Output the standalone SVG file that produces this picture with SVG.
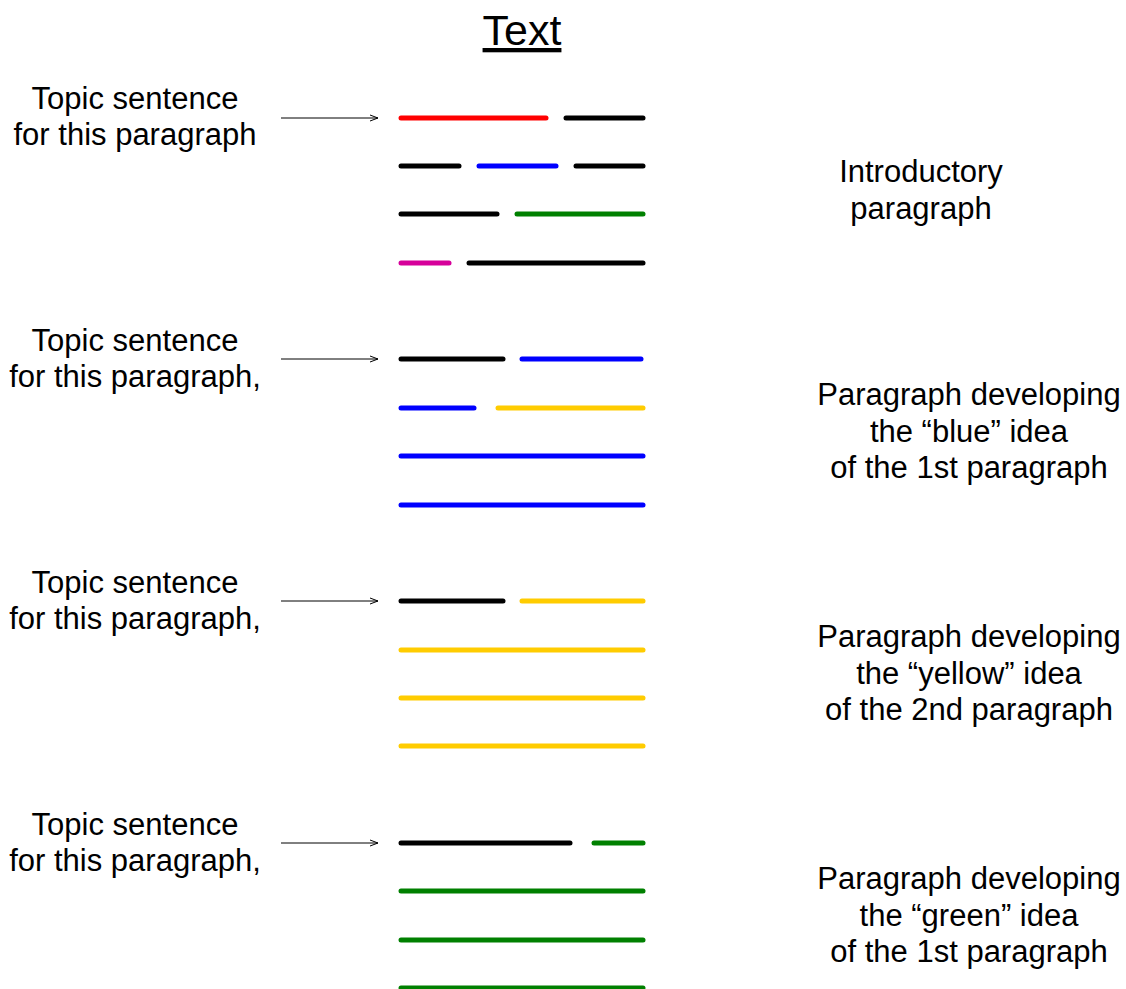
<svg xmlns="http://www.w3.org/2000/svg" width="1126" height="989" viewBox="0 0 1126 989">
<style>
text{font-family:"Liberation Sans",Arial,sans-serif;fill:#000;}
.lbl{font-size:31px;text-anchor:middle;}
.title{font-size:43px;text-anchor:middle;text-decoration:underline;}
.ln{stroke-width:5;stroke-linecap:round;fill:none;}
.k{stroke:#000;}.r{stroke:#ff0000;}.b{stroke:#0000ff;}.g{stroke:#008000;}.y{stroke:#ffcc00;}.m{stroke:#d6009a;}
.arr{stroke:#000;stroke-width:1;fill:none;}
</style>
<defs>
<marker id="ah" markerWidth="10" markerHeight="8" refX="9" refY="4" orient="auto" markerUnits="userSpaceOnUse">
<path d="M1,1 L9,4 L1,7" fill="none" stroke="#000" stroke-width="1"/>
</marker>
</defs>
<rect width="1126" height="989" fill="#fff"/>
<g id="title"><text class="title" x="522" y="45">Text</text></g>

<g id="label-left-1"><text class="lbl" x="135" y="109">Topic sentence</text><text class="lbl" x="135" y="145">for this paragraph</text></g>
<g id="label-left-2"><text class="lbl" x="135" y="351">Topic sentence</text><text class="lbl" x="135" y="387">for this paragraph,</text></g>
<g id="label-left-3"><text class="lbl" x="135" y="593">Topic sentence</text><text class="lbl" x="135" y="629">for this paragraph,</text></g>
<g id="label-left-4"><text class="lbl" x="135" y="835">Topic sentence</text><text class="lbl" x="135" y="871">for this paragraph,</text></g>

<g id="label-right-1"><text class="lbl" x="921" y="182">Introductory</text><text class="lbl" x="921" y="219">paragraph</text></g>
<g id="label-right-2"><text class="lbl" x="969" y="405">Paragraph developing</text><text class="lbl" x="969" y="442">the “blue” idea</text><text class="lbl" x="969" y="478">of the 1st paragraph</text></g>
<g id="label-right-3"><text class="lbl" x="969" y="647">Paragraph developing</text><text class="lbl" x="969" y="684">the “yellow” idea</text><text class="lbl" x="969" y="720">of the 2nd paragraph</text></g>
<g id="label-right-4"><text class="lbl" x="969" y="889">Paragraph developing</text><text class="lbl" x="969" y="926">the “green” idea</text><text class="lbl" x="969" y="962">of the 1st paragraph</text></g>

<g id="paragraph-1">
<line class="ln r" x1="401" y1="118" x2="546" y2="118"/><line class="ln k" x1="566" y1="118" x2="643" y2="118"/>
<line class="ln k" x1="401" y1="166" x2="459" y2="166"/><line class="ln b" x1="479" y1="166" x2="556" y2="166"/><line class="ln k" x1="576" y1="166" x2="643" y2="166"/>
<line class="ln k" x1="401" y1="214" x2="497" y2="214"/><line class="ln g" x1="517" y1="214" x2="643" y2="214"/>
<line class="ln m" x1="401" y1="263" x2="449" y2="263"/><line class="ln k" x1="469" y1="263" x2="643" y2="263"/>
</g>
<g id="paragraph-2">
<line class="ln k" x1="401" y1="359" x2="503" y2="359"/><line class="ln b" x1="522" y1="359" x2="641" y2="359"/>
<line class="ln b" x1="401" y1="408" x2="474" y2="408"/><line class="ln y" x1="498" y1="408" x2="643" y2="408"/>
<line class="ln b" x1="401" y1="456" x2="643" y2="456"/>
<line class="ln b" x1="401" y1="505" x2="643" y2="505"/>
</g>
<g id="paragraph-3">
<line class="ln k" x1="401" y1="601" x2="503" y2="601"/><line class="ln y" x1="522" y1="601" x2="643" y2="601"/>
<line class="ln y" x1="401" y1="650" x2="643" y2="650"/>
<line class="ln y" x1="401" y1="698" x2="643" y2="698"/>
<line class="ln y" x1="401" y1="746" x2="643" y2="746"/>
</g>
<g id="paragraph-4">
<line class="ln k" x1="401" y1="843" x2="570" y2="843"/><line class="ln g" x1="594" y1="843" x2="643" y2="843"/>
<line class="ln g" x1="401" y1="891" x2="643" y2="891"/>
<line class="ln g" x1="401" y1="940" x2="643" y2="940"/>
<line class="ln g" x1="401" y1="988" x2="643" y2="988"/>
</g>

<g id="connectors">
<line class="arr" x1="281" y1="118" x2="378" y2="118" marker-end="url(#ah)"/>
<line class="arr" x1="281" y1="359" x2="378" y2="359" marker-end="url(#ah)"/>
<line class="arr" x1="281" y1="601" x2="378" y2="601" marker-end="url(#ah)"/>
<line class="arr" x1="281" y1="843" x2="378" y2="843" marker-end="url(#ah)"/>
</g>
</svg>
